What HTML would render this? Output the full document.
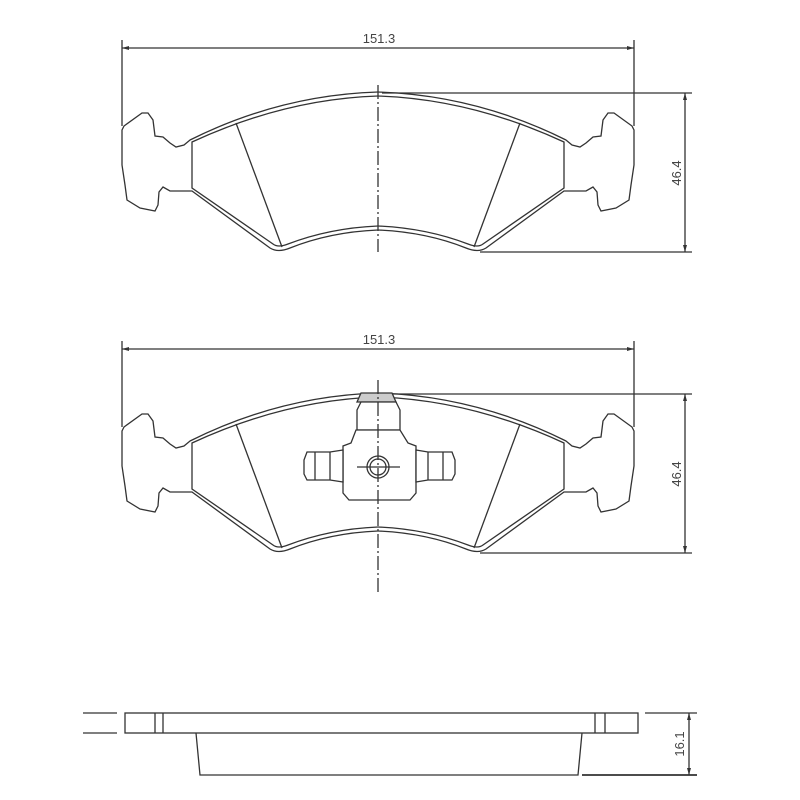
<!DOCTYPE html>
<html><head><meta charset="utf-8"><style>
html,body{margin:0;padding:0;background:#fff;width:800px;height:800px;overflow:hidden}
svg{display:block}
text{font-family:"Liberation Sans",sans-serif;font-size:13px;fill:#444;stroke:none}
</style></head><body>
<svg width="800" height="800" viewBox="0 0 800 800" fill="none" stroke="#333" stroke-width="1.3">
<defs>
<g id="half">
  <path d="M378,92 Q280,95 190,140 L184,145 L176,147 L170,143 L163,137 L155,136 L153,120 L148,113 L142,113 L124,126 L122,130 L122,165 L125,185 L127,200 L140,208 L155,211 L158,205 L159,192 L163,187 L170,191 L192,191 L270,248 Q278,253 290,248 Q330,232 378,230"/>
  <path d="M378,96 Q285,99 192,142 L192,188 L273,244 Q278,248 288,244 Q330,228 378,226"/>
  <path d="M236,123 L282,247"/>
</g>
<g id="pad">
  <use href="#half"/>
  <use href="#half" transform="translate(756,0) scale(-1,1)"/>
</g>
<marker id="ar" markerUnits="userSpaceOnUse" markerWidth="8" markerHeight="6" refX="7" refY="3" orient="auto-start-reverse"><path d="M0,1 L7,3 L0,5z" fill="#333" stroke="none"/></marker>
</defs>

<use href="#pad"/>
<line x1="378" y1="85" x2="378" y2="252" stroke-dasharray="14,3,2,3"/>
<line x1="122" y1="40" x2="122" y2="126"/>
<line x1="634" y1="40" x2="634" y2="126"/>
<line x1="122" y1="48" x2="634" y2="48" marker-start="url(#ar)" marker-end="url(#ar)"/>
<text x="379" y="43" text-anchor="middle">151.3</text>
<line x1="382" y1="93" x2="692" y2="93"/>
<line x1="480" y1="252" x2="692" y2="252"/>
<line x1="685" y1="93" x2="685" y2="252" marker-start="url(#ar)" marker-end="url(#ar)"/>
<text transform="translate(681,173) rotate(-90)" text-anchor="middle">46.4</text>

<g transform="translate(0,301)">
  <use href="#pad"/>
  <line x1="122" y1="40" x2="122" y2="126"/>
  <line x1="634" y1="40" x2="634" y2="126"/>
  <line x1="122" y1="48" x2="634" y2="48" marker-start="url(#ar)" marker-end="url(#ar)"/>
  <text x="379" y="43" text-anchor="middle">151.3</text>
  <line x1="382" y1="93" x2="692" y2="93"/>
  <line x1="480" y1="252" x2="692" y2="252"/>
  <line x1="685" y1="93" x2="685" y2="252" marker-start="url(#ar)" marker-end="url(#ar)"/>
  <text transform="translate(681,173) rotate(-90)" text-anchor="middle">46.4</text>
</g>
<g fill="#fff">
  <path d="M365,393 L392,393 L396,402 L357,402 L361,393Z" fill="#ccc"/>
  <path d="M361,402 L396,402 L400,410 L400,430 L357,430 L357,410Z"/>
  <path d="M356,430 L400,430 L408,443 L416,446 L416,493 L410,500 L349,500 L343,493 L343,446 L351,443Z"/>
  <path d="M343,450 L330,452 L307,452 L304,460 L304,474 L307,480 L330,480 L343,482Z"/>
  <path d="M416,450 L428,452 L452,452 L455,460 L455,474 L452,480 L428,480 L416,482Z"/>
</g>
<line x1="315" y1="452" x2="315" y2="480"/><line x1="330" y1="452" x2="330" y2="480"/>
<line x1="428" y1="452" x2="428" y2="480"/><line x1="443" y1="452" x2="443" y2="480"/>
<circle cx="378" cy="467" r="11"/>
<circle cx="378" cy="467" r="8"/>
<line x1="357" y1="467" x2="400" y2="467"/>
<line x1="378" y1="380" x2="378" y2="595" stroke-dasharray="14,3,2,3"/>

<rect x="125" y="713" width="513" height="20"/>
<line x1="155" y1="713" x2="155" y2="733"/><line x1="163" y1="713" x2="163" y2="733"/>
<line x1="595" y1="713" x2="595" y2="733"/><line x1="605" y1="713" x2="605" y2="733"/>
<line x1="83" y1="713" x2="117" y2="713"/><line x1="83" y1="733" x2="117" y2="733"/>
<path d="M196,733 L200,775 L578,775 L582,733"/>
<line x1="645" y1="713" x2="697" y2="713"/>
<line x1="582" y1="775" x2="697" y2="775" stroke-width="1.8"/>
<line x1="689" y1="713" x2="689" y2="775" marker-start="url(#ar)" marker-end="url(#ar)"/>
<text transform="translate(684,744) rotate(-90)" text-anchor="middle">16.1</text>
</svg>
</body></html>
